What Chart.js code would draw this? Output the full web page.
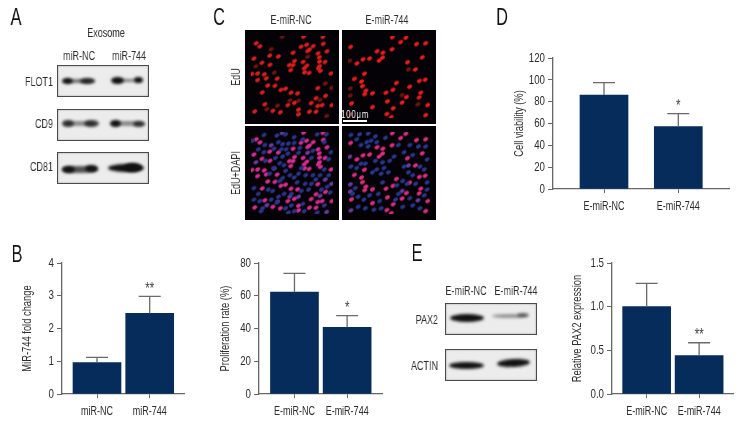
<!DOCTYPE html>
<html><head><meta charset="utf-8">
<script src="https://cdn.jsdelivr.net/npm/chart.js@4"></script>
<style>
html,body{margin:0;padding:0;background:#fff;width:756px;height:432px;overflow:hidden}
canvas{position:absolute;display:block}
.t{position:absolute;font-family:"Liberation Sans",sans-serif;color:#2c2c2c;white-space:nowrap;font-size:12.5px;line-height:14px;will-change:transform;transform:translate(-50%,-50%) scaleX(.72)}
.r{transform:translate(-100%,-50%) scaleX(.72);transform-origin:100% 50%}
.v{transform:translate(-50%,-50%) rotate(-90deg) scaleX(.72)}
.l{font-size:24px;line-height:24px;color:#111;transform:translate(-50%,-50%) scaleX(.68)}
.blot{position:absolute;background:#ececec;border:1px solid #4a4a4a;box-sizing:border-box;overflow:hidden;box-shadow:inset 0 0 2px #999}
.b{position:absolute;border-radius:50%;background:#111;filter:blur(1.6px)}
</style></head><body>
<script>
// ---- bar panels: values ----
const catsMiR = ['miR-NC','miR-744'];
const catsExo = ['E-miR-NC','E-miR-744'];
const foldValues = [0.96,2.46];   const foldErrTop = [1.12,2.98];   const foldTicks = [0,1,2,3,4];
const prolifValues = [62.2,40.7]; const prolifErrTop = [73.7,47.9]; const prolifTicks = [0,20,40,60,80];
const viabValues = [86.1,57.1];   const viabErrTop = [97.4,69];     const viabTicks = [0,20,40,60,80,100,120];
const paxValues = [1.0,0.44];     const paxErrTop = [1.266,0.587];  const paxTicks = [0,0.5,1.0,1.5];
const foldStars = ['','**']; const prolifStars = ['','*']; const viabStars = ['','*']; const paxStars = ['','**'];

// ---- micrograph nuclei (image units 0-285) ----
const nc = [[18,25],[31,36],[65,68],[95,71],[10,78],[38,93],[66,100],[3,132],[23,130],[46,133],[53,147],[23,153],[91,148],[58,172],[83,173],[39,196],[104,187],[120,183],[139,197],[162,199],[48,237],[128,240],[151,232],[13,262],[76,260],[102,265],[165,256],[165,272],[146,58],[174,37],[193,30],[216,35],[203,47],[197,52],[264,53],[251,27],[233,60],[237,74],[181,90],[151,87],[146,101],[133,101],[138,118],[194,103],[185,112],[186,126],[202,128],[238,89],[257,90],[238,105],[234,112],[241,121],[278,130],[232,181],[259,208],[226,216],[209,233],[232,243],[247,240],[203,263],[226,263],[281,240],[183,2],[250,3]];
const ncDim = [[70,46],[81,127],[135,224],[165,225],[55,254],[92,242],[197,72],[258,165],[280,180],[240,222],[263,278],[108,3],[17,105]];
const e744 = [[154,4],[201,6],[183,21],[238,28],[270,25],[9,38],[153,46],[101,53],[121,58],[120,75],[108,85],[75,78],[52,81],[31,95],[258,74],[207,91],[234,116],[57,131],[22,149],[47,158],[50,174],[62,190],[58,202],[85,199],[132,197],[156,187],[168,163],[214,176],[248,156],[268,152],[253,197],[247,213],[203,212],[137,227],[188,231],[12,234],[85,247],[157,251],[277,240],[135,271],[270,275],[150,282]];
const e744Dim = [[6,86],[210,116],[8,182],[188,205],[8,207],[243,237],[10,272]];
const ncBlue = [[45,10],[90,12],[120,8],[150,18],[180,25],[230,8],[262,8],[5,30],[48,45],[95,35],[110,42],[130,40],[150,38],[122,60],[105,60],[170,55],[25,60],[45,70],[80,58],[128,75],[110,85],[85,90],[50,100],[165,72],[215,65],[255,35],[278,70],[270,95],[210,90],[100,108],[115,115],[78,125],[120,135],[135,150],[150,158],[165,145],[175,125],[65,145],[110,160],[100,170],[255,130],[215,150],[190,150],[225,165],[270,150],[240,150],[210,180],[188,180],[265,190],[160,175],[60,200],[10,195],[25,215],[75,205],[95,225],[115,215],[140,215],[175,205],[200,200],[245,200],[275,210],[30,240],[10,235],[70,235],[90,245],[120,265],[140,255],[180,250],[255,255],[40,265],[35,275],[130,280],[230,280],[185,275],[150,275]];
const e744Blue = [[10,10],[40,8],[70,5],[95,15],[65,35],[80,30],[45,45],[70,50],[30,25],[100,35],[130,20],[175,45],[215,45],[245,50],[270,50],[195,70],[225,80],[275,95],[160,85],[145,100],[120,105],[95,100],[125,125],[100,130],[85,140],[115,145],[140,140],[30,125],[10,120],[45,110],[60,110],[195,120],[250,120],[265,130],[210,140],[225,150],[190,170],[205,180],[170,185],[235,180],[275,175],[25,195],[15,215],[35,225],[75,220],[105,215],[120,175],[110,240],[55,235],[35,260],[60,265],[90,270],[115,265],[175,215],[165,235],[215,230],[225,255],[190,260],[250,265],[265,220],[275,200]];

Chart.defaults.animation = false;
Chart.defaults.responsive = false;
const FONT = '"Liberation Sans",sans-serif';
const AXIS = '#666', TXT = '#2c2c2c', NAVY = '#052c5b', NARROW = 0.72;

function mk(left, top, w, h){
  const c = document.createElement('canvas');
  c.width = w; c.height = h;
  c.style.left = left+'px'; c.style.top = top+'px'; c.style.width = w+'px'; c.style.height = h+'px';
  const ctx = c.getContext('2d'), plain = ctx.fillText.bind(ctx);
  // the reference uses a condensed face: squeeze every label along its own baseline
  ctx.fillText = (s,x,y)=>{ctx.save();ctx.translate(x,y);ctx.scale(NARROW,1);plain(s,0,0);ctx.restore();};
  document.body.appendChild(c);
  return c;
}

const errorBars = {
  id:'errorBars',
  afterDatasetsDraw(chart, _a, o){
    const {ctx, scales:{x,y}} = chart;
    ctx.save();
    ctx.strokeStyle = '#6a6a6a'; ctx.lineWidth = 1.3;
    o.top.forEach((v,i)=>{
      const px = x.getPixelForValue(i+1), base = y.getPixelForValue(chart.data.datasets[0].data[i].y), py = y.getPixelForValue(v);
      ctx.beginPath();
      ctx.moveTo(px, base); ctx.lineTo(px, py);
      ctx.moveTo(px-11, py); ctx.lineTo(px+11, py);
      ctx.stroke();
      if (o.stars[i]) {
        ctx.fillStyle = '#444'; ctx.font = '16px '+FONT; ctx.textAlign='center'; ctx.textBaseline='middle';
        ctx.fillText(o.stars[i], px, py-7);
      }
    });
    ctx.restore();
  }
};

function barPanel(p){
  const PAD = 12, XH = 30;
  const W = p.yw + (p.right - p.axis), H = PAD + (p.bottom - p.top) + XH;
  const u = p.c2 - p.c1;
  const xMin = 1 - (p.c1 - p.axis)/u, xMax = 2 + (p.right - p.c2)/u;
  new Chart(mk(p.axis - p.yw, p.top - PAD, W, H), {
    type:'bar',
    data:{datasets:[{data:p.values.map((v,i)=>({x:i+1,y:v})), backgroundColor:NAVY, barThickness:48, borderWidth:0}]},
    plugins:[errorBars],
    options:{
      layout:{padding:{top:PAD,left:0,right:0,bottom:0}},
      plugins:{legend:{display:false},tooltip:{enabled:false},errorBars:{top:p.err,stars:p.stars}},
      scales:{
        x:{type:'linear',min:xMin,max:xMax,offset:false,
           afterFit(s){s.height=XH},
           afterBuildTicks(s){s.ticks=p.cats.map((_,i)=>({value:i+1}))},
           grid:{offset:false,drawOnChartArea:false,drawTicks:true,tickLength:4,color:AXIS},
           border:{color:AXIS,width:1.3},
           ticks:{callback:v=>p.cats[v-1],color:TXT,font:{family:FONT,size:12.5},padding:6,maxRotation:0,autoSkip:false}},
        y:{min:p.ticks[0],max:p.ticks[p.ticks.length-1],
           afterFit(s){s.width=p.yw},
           afterBuildTicks(s){s.ticks=p.ticks.map(v=>({value:v}))},
           grid:{drawOnChartArea:false,drawTicks:true,tickLength:5,color:AXIS},
           border:{color:AXIS,width:1.3},
           title:{display:true,text:p.title,color:TXT,font:{family:FONT,size:13},padding:0},
           ticks:{callback:v=>p.dec?v.toFixed(p.dec):String(v),color:TXT,font:{family:FONT,size:13.5},padding:3}}
      }
    }
  });
}
barPanel({axis:62,right:185,top:263,bottom:394,yw:42,c1:97,c2:149.7,cats:catsMiR,values:foldValues,err:foldErrTop,stars:foldStars,ticks:foldTicks,title:'MiR-744 fold change'});
barPanel({axis:259,right:383,top:263,bottom:394,yw:41,c1:294.7,c2:347.7,cats:catsExo,values:prolifValues,err:prolifErrTop,stars:prolifStars,ticks:prolifTicks,title:'Proliferation rate (%)'});
barPanel({axis:612,right:735,top:263,bottom:394,yw:42,c1:647,c2:700,cats:catsExo,values:paxValues,err:paxErrTop,stars:paxStars,ticks:paxTicks,dec:1,title:'Relative PAX2 expression'});
barPanel({axis:553,right:730,top:58,bottom:189,yw:41,c1:604,c2:678.3,cats:catsExo,values:viabValues,err:viabErrTop,stars:viabStars,ticks:viabTicks,title:'Cell viability (%)'});

// ---- micrographs ----
function sprite(color){
  const c = document.createElement('canvas'); c.width = 11; c.height = 11;
  const g = c.getContext('2d');
  g.filter = 'blur(0.6px)'; g.fillStyle = color;
  g.beginPath(); g.ellipse(5.5,5.5,2.65,1.95,-0.5,0,Math.PI*2); g.fill();
  return c;
}
const toPts = a => a.map(([x,y])=>({x,y}));
function micro(left, top, sets){
  new Chart(mk(left, top, 94, 94), {
    type:'scatter',
    data:{datasets:sets.map(s=>({data:toPts(s.pts),pointStyle:sprite(s.color),pointRadius:5,showLine:false}))},
    options:{
      layout:{padding:0},
      plugins:{legend:{display:false},tooltip:{enabled:false}},
      scales:{x:{type:'linear',min:0,max:285,display:false},y:{type:'linear',min:0,max:285,reverse:true,display:false}}
    },
    plugins:[{id:'bg',beforeDraw(ch){ch.ctx.fillStyle='#040206';ch.ctx.fillRect(0,0,ch.width,ch.height)}}]
  });
}
micro(245,30,[{pts:ncDim,color:'#6e1410'},{pts:nc,color:'#d81f1c'}]);
micro(341.5,30,[{pts:e744Dim,color:'#6e1410'},{pts:e744,color:'#ea1c1c'}]);
micro(245,126,[{pts:ncBlue,color:'#2a3488'},{pts:ncDim,color:'#6a3aa0'},{pts:nc,color:'#d42c90'}]);
micro(341.5,126,[{pts:e744Blue,color:'#28368c'},{pts:e744Dim,color:'#6a3aa0'},{pts:e744,color:'#dc2c80'}]);

// ---- text and blots ----
function T(s,x,y,cls,extra){const d=document.createElement('div');d.className='t '+(cls||'');d.textContent=s;d.style.left=x+'px';d.style.top=y+'px';if(extra)Object.assign(d.style,extra);document.body.appendChild(d);return d}
T('A',16,17,'l');T('B',16.5,253.5,'l');T('C',218.5,17,'l');T('D',502,17,'l');T('E',417,253,'l');
T('Exosome',105.7,33);T('miR-NC',79,55.7);T('miR-744',129,55.7);
T('FLOT1',52.7,82,'r');T('CD9',52.7,124.3,'r');T('CD81',52.7,167,'r');
T('E-miR-NC',290.7,20);T('E-miR-744',386.7,20);T('EdU',236,76.7,'v');T('EdU+DAPI',236,173,'v');
T('E-miR-NC',465.7,290.7);T('E-miR-744',515.7,290.7);T('PAX2',438.3,320,'r');T('ACTIN',438.3,366,'r');
T('100μm',355,114,'',{color:'#fff',zIndex:5,fontSize:'11px',letterSpacing:'1px'});
const sb=document.createElement('div');Object.assign(sb.style,{position:'absolute',left:'343px',top:'119.5px',width:'24px',height:'2px',background:'#fff',zIndex:5});document.body.appendChild(sb);

function blot(x,y,w,h,bands){
  const d=document.createElement('div');d.className='blot';Object.assign(d.style,{left:x+'px',top:y+'px',width:w+'px',height:h+'px'});
  bands.forEach(([cx,cy,bw,bh,op,rot])=>{
    const b=document.createElement('div');b.className='b';
    Object.assign(b.style,{left:(cx-bw/2-x-1)+'px',top:(cy-bh/2-y-1)+'px',width:bw+'px',height:bh+'px',opacity:op,transform:'rotate('+(rot||0)+'deg)'});
    d.appendChild(b);
  });
  document.body.appendChild(d);
}
blot(56.5,65,92.5,32,[[79,81,32,4,.55],[67.5,81,11,6,1],[87,81,15,6,.85],[117,80.5,13,7,1],[128,80.5,28,3.5,.5],[138.5,80,9,6,1]]);
blot(56.5,108.5,92.5,32,[[79,123.5,32,5,.45],[68,123.5,12,7,.8],[91,123.5,15,7,.8],[128,123.5,34,5,.45],[115,123.5,11,7,1],[138.5,123.5,12,6,.8]]);
blot(56.5,152,92.5,32,[[80,169,36,7,.7],[68,169.5,13,7,1],[91,168,13,7,1],[126,167.5,36,8,1],[133,167,18,9,1]]);
blot(444.5,303,92,32,[[466.5,318,34,8,1],[510,316,36,4,.4],[523,315,12,4,.55]]);
blot(444.5,348.5,92,32,[[466.5,365,35,7,1],[513,362.5,33,8,1,-3]]);
</script>
</body></html>
